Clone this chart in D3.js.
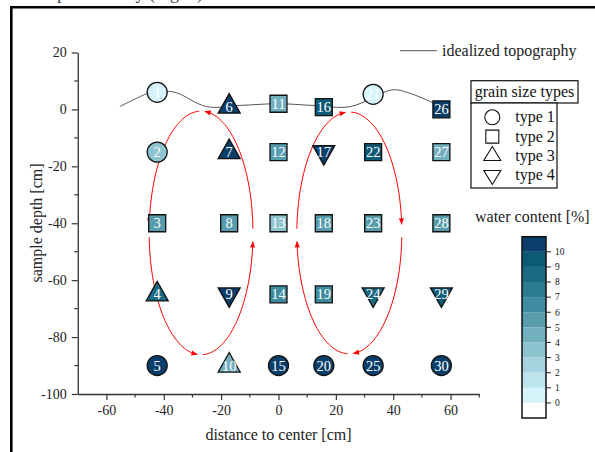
<!DOCTYPE html>
<html>
<head>
<meta charset="utf-8">
<script src="https://cdn.jsdelivr.net/npm/d3@7"></script>
<style>
	body { margin: 0; background: #fff; }
	svg { display: block; }
	text { font-family: "Liberation Serif", "Times New Roman", serif; }
</style>
</head>
<body>
<svg id="chart" width="595" height="452"></svg>
<script>
// samples 1..30, five per column
var sampleIds = [1, 2, 3, 4, 5, 6, 7, 8, 9, 10, 11, 12, 13, 14, 15, 16, 17, 18, 19, 20, 21, 22, 23, 24, 25, 26, 27, 28, 29, 30]
var sampleX = [-42.3, -42.3, -42.3, -42.3, -42.3, -17.2, -17.2, -17.2, -17.2, -17.2, 0, 0, 0, 0, 0,
	15.8, 15.8, 15.8, 15.8, 15.8, 33, 33, 33, 33, 33, 56.8, 56.8, 56.8, 56.8, 56.8]
var sampleY = [6, -15, -40, -65, -90, 1, -15, -40, -65, -90, 2, -15, -40, -65, -90,
	0.8, -15, -40, -65, -90, 5.3, -15, -40, -65, -90, 0, -15, -40, -65, -90]
// 1 circle, 2 square, 3 triangle up, 4 triangle down
var grainType = [1, 1, 2, 3, 1, 3, 3, 2, 4, 3, 2, 2, 2, 2, 1, 2, 4, 2, 2, 1, 1, 2, 2, 4, 1, 2, 2, 2, 4, 1]
var waterContent = [0.5, 3.5, 5.5, 8.5, 10.5, 10.5, 10.5, 5.5, 10.5, 4.5, 4.5, 5.5, 3.5, 6.5, 10.5,
	9.5, 10.5, 5.5, 6.5, 10.5, 0.5, 9.5, 5.5, 8.5, 10.5, 10.5, 4.5, 5, 9.5, 10.5]

var topoX = [-55.3, -46, -42.4, -38.6, -35.1, -25.1, -13.5, 0, 12, 25.1, 39.8, 45.7, 54.5, 57]
var topoY = [1, 5.5, 6.5, 6.4, 5.7, 1, 1.4, 2, 1.4, 1, 6.9, 5.7, 2, 0.5]

var xTicks = [-60, -40, -20, 0, 20, 40, 60]
var xMinor = [-50, -30, -10, 10, 30, 50, 70]
var yTicks = [-100, -80, -60, -40, -20, 0, 20]
var yMinor = [-90, -70, -50, -30, -10, 10]

var cbTicks = [0, 1, 2, 3, 4, 5, 6, 7, 8, 9, 10]
var cbColors = ['#ffffff', '#d6f2fa', '#bde3ed', '#a6d3df', '#8ec3d0', '#72afbf', '#579cad',
	'#3e8a9e', '#2c7a8f', '#1b6a83', '#0d5a77', '#0b3f6b']

var typeNames = ['type 1', 'type 2', 'type 3', 'type 4']

// convection loops: centre, radii (cm) and turning sense
var loopCx = [-27, 24.7]
var loopCy = [-43.4, -43.4]
var loopRx = [18.1, 18.3]
var loopRy = [42.8, 42.5]
var loopDir = [-1, 1]

var svg = d3.select('#chart')

var x = d3.scaleLinear().domain([-70, 70]).range([77.75, 479.25])
var y = d3.scaleLinear().domain([-100, 20]).range([394, 52.5])
var color = d3.scaleThreshold().domain(cbTicks).range(cbColors)

// page frame, with the end of the page text above it
svg.append('path').attr('d', 'M11.3,452V7.3H595').attr('fill', 'none').attr('stroke', '#000').attr('stroke-width', 2.6)
svg.append('text').attr('x', 11).attr('y', -1).attr('font-size', 18).attr('fill', '#444').text('in a separated way (Fig. 2).')

// axes
function styleAxis(g) {
	g.select('.domain').attr('stroke', '#333').attr('stroke-width', 1.3)
	g.selectAll('.tick line').attr('stroke', '#333').attr('stroke-width', 1.2)
	g.selectAll('.tick text').attr('font-family', '"Liberation Serif", serif').attr('font-size', 14).attr('fill', '#222')
}

var xAxis = svg.append('g').attr('transform', 'translate(0,394)')
	.call(d3.axisBottom(x).tickValues(xTicks).tickSize(6).tickSizeOuter(0).tickPadding(5).tickFormat((d) => String(d)))
styleAxis(xAxis)
xAxis.selectAll('.minor').data(xMinor).join('line').attr('class', 'minor')
	.attr('x1', (d) => x(d)).attr('x2', (d) => x(d)).attr('y1', 0).attr('y2', 3.5)
	.attr('stroke', '#333').attr('stroke-width', 1.2)

var yAxis = svg.append('g').attr('transform', 'translate(77.75,0)')
	.call(d3.axisLeft(y).tickValues(yTicks).tickSize(6).tickSizeOuter(0).tickPadding(5).tickFormat((d) => String(d)))
styleAxis(yAxis)
yAxis.selectAll('.minor').data(yMinor).join('line').attr('class', 'minor')
	.attr('y1', (d) => y(d)).attr('y2', (d) => y(d)).attr('x1', 0).attr('x2', -3.5)
	.attr('stroke', '#333').attr('stroke-width', 1.2)

svg.append('text').attr('x', 278.5).attr('y', 440).attr('text-anchor', 'middle').attr('font-size', 16).attr('fill', '#222')
	.text('distance to center [cm]')
svg.append('text').attr('transform', 'translate(42,223) rotate(-90)').attr('text-anchor', 'middle').attr('font-size', 16).attr('fill', '#222')
	.text('sample depth [cm]')

// topography
var topo = topoX.map((d, i) => [d, topoY[i]])
svg.append('path').datum(topo)
	.attr('d', d3.line().x((d) => x(d[0])).y((d) => y(d[1])).curve(d3.curveCatmullRom.alpha(0.5)))
	.attr('fill', 'none').attr('stroke', '#555').attr('stroke-width', 1)

// red loops, four arcs each with an arrow head at the end
var arrows = svg.append('g')
loopCx.forEach(function (cx, k) {
	for (var q = 0; q < 4; q++) {
		var a0 = -90 + loopDir[k] * (90 * q + 2)
		var a1 = -90 + loopDir[k] * (90 * q + 86)
		var pts = d3.range(0, 41).map(function (i) {
			var t = ((a0 + (a1 - a0) * i / 40) * Math.PI) / 180
			return [x(cx + loopRx[k] * Math.cos(t)), y(loopCy[k] - loopRy[k] * Math.sin(t))]
		})
		arrows.append('path').attr('d', d3.line()(pts)).attr('fill', 'none').attr('stroke', '#f00').attr('stroke-width', 1)
		var p1 = pts[pts.length - 1], p0 = pts[pts.length - 3]
		var ang = Math.atan2(p1[1] - p0[1], p1[0] - p0[0])
		var L = 6, W = 2.6
		var bx = p1[0] - L * Math.cos(ang), by = p1[1] - L * Math.sin(ang)
		arrows.append('path')
			.attr('d', 'M' + p1[0] + ',' + p1[1] +
				'L' + (bx - W * Math.sin(ang)) + ',' + (by + W * Math.cos(ang)) +
				'L' + (bx + W * Math.sin(ang)) + ',' + (by - W * Math.cos(ang)) + 'Z')
			.attr('fill', '#f00')
	}
})

// marker shapes centred on (0,0); triangles on their centroid
function circlePath(r) {
	var p = d3.path()
	p.moveTo(r, 0)
	p.arc(0, 0, r, 0, 2 * Math.PI)
	p.closePath()
	return p.toString()
}
function shapePath(type, s) {
	if (type === 1) return circlePath(s.r)
	if (type === 2) return 'M' + -s.a / 2 + ',' + -s.a / 2 + 'h' + s.a + 'v' + s.a + 'h' + -s.a + 'Z'
	if (type === 3) return 'M0,' + (-2 * s.h) / 3 + 'L' + s.w / 2 + ',' + s.h / 3 + 'L' + -s.w / 2 + ',' + s.h / 3 + 'Z'
	return 'M0,' + (2 * s.h) / 3 + 'L' + s.w / 2 + ',' + -s.h / 3 + 'L' + -s.w / 2 + ',' + -s.h / 3 + 'Z'
}

var bigSize = { r: 10, a: 17, w: 22, h: 19.5 }
var samples = sampleIds.map((id, i) => ({ id: id, x: sampleX[i], y: sampleY[i], type: grainType[i], w: waterContent[i] }))

var marks = svg.append('g').selectAll('g').data(samples).join('g')
	.attr('transform', (d) => 'translate(' + x(d.x) + ',' + y(d.y) + ')')
marks.append('path').attr('d', (d) => shapePath(d.type, bigSize))
	.attr('fill', (d) => color(d.w)).attr('stroke', '#111').attr('stroke-width', 1.3)
marks.append('text').attr('text-anchor', 'middle').attr('dy', '0.35em').attr('font-size', 14.5).attr('fill', '#fff')
	.text((d) => d.id)

// topography legend
svg.append('line').attr('x1', 400).attr('x2', 437).attr('y1', 50.7).attr('y2', 50.7).attr('stroke', '#555').attr('stroke-width', 1)
svg.append('text').attr('x', 442).attr('y', 56).attr('font-size', 16).attr('fill', '#222').text('idealized topography')

// grain size legend
var leg = svg.append('g')
leg.append('rect').attr('x', 471).attr('y', 80.7).attr('width', 107).attr('height', 22.3)
	.attr('fill', '#fff').attr('stroke', '#111').attr('stroke-width', 1.2)
leg.append('rect').attr('x', 471).attr('y', 103).attr('width', 86).attr('height', 85)
	.attr('fill', '#fff').attr('stroke', '#111').attr('stroke-width', 1.2)
leg.append('text').attr('x', 524.5).attr('y', 97).attr('text-anchor', 'middle').attr('font-size', 16).attr('fill', '#111')
	.text('grain size types')
var smallSize = { r: 7.5, a: 13, w: 17, h: 14 }
var legRows = leg.selectAll('.row').data(typeNames).join('g').attr('class', 'row')
	.attr('transform', (d, i) => 'translate(492.3,' + (117.3 + i * 19.3) + ')')
legRows.append('path').attr('d', (d, i) => shapePath(i + 1, smallSize))
	.attr('fill', 'none').attr('stroke', '#111').attr('stroke-width', 1.1)
legRows.append('text').attr('x', 23).attr('y', 5).attr('font-size', 16).attr('fill', '#111').text((d) => d)

// water content colour bar
var cb = d3.scaleLinear().domain([-1, 11]).range([418, 236.7])
var bar = svg.append('g')
bar.selectAll('rect.band').data(cbColors).join('rect').attr('class', 'band')
	.attr('x', 522).attr('width', 24)
	.attr('y', (d, i) => cb(i)).attr('height', (d, i) => cb(i - 1) - cb(i))
	.attr('fill', (d) => d)
bar.append('rect').attr('x', 522).attr('y', cb(11)).attr('width', 24).attr('height', cb(-1) - cb(11))
	.attr('fill', 'none').attr('stroke', '#111').attr('stroke-width', 1.5)
bar.selectAll('line.tk').data(cbTicks).join('line').attr('class', 'tk')
	.attr('x1', 546).attr('x2', 551).attr('y1', (d) => cb(d)).attr('y2', (d) => cb(d))
	.attr('stroke', '#222').attr('stroke-width', 1)
bar.selectAll('text.tl').data(cbTicks).join('text').attr('class', 'tl')
	.attr('x', 555).attr('y', (d) => cb(d)).attr('dy', '0.35em')
	.attr('font-family', '"Liberation Sans", Arial, sans-serif').attr('font-size', 9.5).attr('fill', '#111')
	.text((d) => d)
svg.append('text').attr('x', 475).attr('y', 222).attr('font-size', 16).attr('fill', '#222').text('water content [%]')
</script>
</body>
</html>
